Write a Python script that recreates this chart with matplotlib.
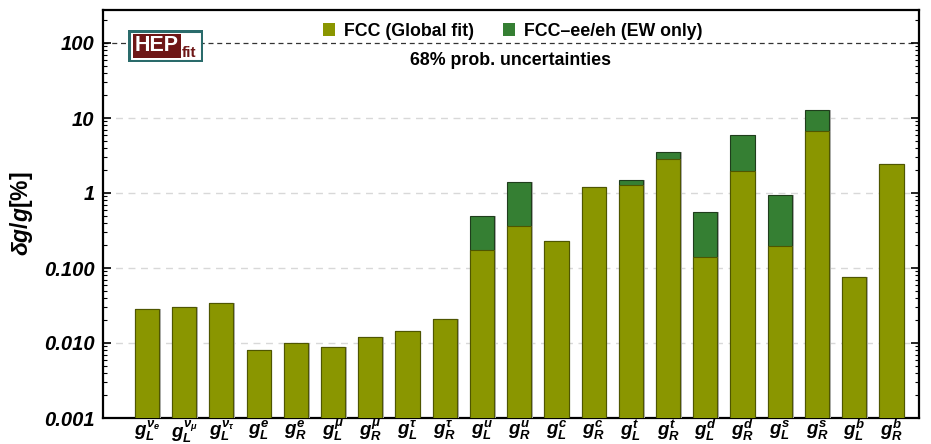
import numpy as np
import matplotlib
matplotlib.use("Agg")
import matplotlib.pyplot as plt
import matplotlib.patheffects as pe
from matplotlib.patches import Rectangle
from matplotlib.ticker import FixedLocator, LogLocator, NullFormatter

plt.rcParams['font.family'] = ['Liberation Sans', 'DejaVu Sans']
plt.rcParams['mathtext.fontset'] = 'custom'
plt.rcParams['mathtext.it'] = 'Liberation Sans:italic:bold'
plt.rcParams['mathtext.rm'] = 'Liberation Sans:bold'
plt.rcParams['mathtext.bf'] = 'Liberation Sans:bold'

# couplings
labels = [r'$g_L^{\nu_e}$', r'$g_L^{\nu_\mu}$', r'$g_L^{\nu_\tau}$',
          r'$g_L^{e}$', r'$g_R^{e}$', r'$g_L^{\mu}$', r'$g_R^{\mu}$',
          r'$g_L^{\tau}$', r'$g_R^{\tau}$', r'$g_L^{u}$', r'$g_R^{u}$',
          r'$g_L^{c}$', r'$g_R^{c}$', r'$g_L^{t}$', r'$g_R^{t}$',
          r'$g_L^{d}$', r'$g_R^{d}$', r'$g_L^{s}$', r'$g_R^{s}$',
          r'$g_L^{b}$', r'$g_R^{b}$']

# relative uncertainties in %
fcc_global = [0.0284, 0.030, 0.034, 0.0081, 0.0100, 0.0089, 0.0120, 0.0145,
              0.021, 0.174, 0.36, 0.226, 1.20, 1.28, 2.84, 0.142, 1.95,
              0.199, 6.8, 0.075, 2.42]
fcc_ew = [0.0284, 0.030, 0.034, 0.0081, 0.0100, 0.0089, 0.0120, 0.0145,
          0.021, 0.49, 1.40, 0.226, 1.20, 1.50, 3.5, 0.553, 5.9,
          0.94, 12.7, 0.075, 2.42]

olive = '#8a9600'
green = '#357f33'
x = np.arange(len(labels))
w = 0.65

fig = plt.figure(figsize=(9.31, 4.44), dpi=100)
ax = fig.add_axes([103/931, 1 - 418/444, 816/931, 408/444])

shadow = [pe.SimplePatchShadow(offset=(1.2, 0), shadow_rgbFace='#b0b0b0', alpha=1.0),
          pe.Normal()]
ax.bar(x, fcc_ew, width=w, color=green, edgecolor='#1f3d1c', linewidth=0.8,
       path_effects=shadow, zorder=2, label='FCC\u2013ee/eh (EW only)')
ax.bar(x, fcc_global, width=w, color=olive, edgecolor='#4f5600', linewidth=0.8,
       path_effects=shadow, zorder=3, label='FCC (Global fit)')

ax.set_yscale('log')
ax.set_ylim(0.001, 10**2.44)
ax.set_xlim(-1.18, 20.74)

for v in [0.01, 0.1, 1, 10]:
    ax.axhline(v, color='#d8d8d8', lw=1.0, ls=(0, (5, 4)), zorder=1)
ax.axhline(100, color='#333333', lw=0.9, ls=(0, (4, 3)), zorder=1)

ax.yaxis.set_major_locator(FixedLocator([0.001, 0.01, 0.1, 1, 10, 100]))
ax.set_yticklabels(['0.001', '0.010', '0.100', '1', '10', '100'])
ax.yaxis.set_minor_locator(LogLocator(base=10, subs=np.arange(2, 10), numticks=20))
ax.yaxis.set_minor_formatter(NullFormatter())
ax.tick_params(axis='y', which='major', direction='in', length=6, width=1.2,
               right=True, labelsize=14.5, pad=6)
ax.tick_params(axis='y', which='minor', direction='in', length=3, width=0.8,
               right=True)
for t in ax.get_yticklabels():
    t.set_fontweight('bold')
    t.set_fontstyle('italic')

ax.set_xticks(x)
ax.set_xticklabels(labels, fontsize=13.5)
ax.tick_params(axis='x', direction='in', length=3, width=1.2, pad=0)

for s in ax.spines.values():
    s.set_linewidth(1.6)

ax.set_ylabel(r'$\delta g/g[\%]$', fontsize=16.5)
ax.yaxis.set_label_coords(-0.083, 0.5)

handles, labs = ax.get_legend_handles_labels()
leg = ax.legend(handles[::-1], labs[::-1], loc='center', ncol=2,
                frameon=False, bbox_to_anchor=(0.502, 0.948), handlelength=0.7,
                handleheight=0.7, columnspacing=1.6, handletextpad=0.5,
                borderpad=0, prop={'weight': 'bold', 'size': 12.8})
for h in leg.legend_handles:
    h.set_edgecolor('none')
    h.set_path_effects([])
ax.text(0.5, 0.877, '68% prob. uncertainties', transform=ax.transAxes,
        ha='center', va='center', fontsize=12.8, fontweight='bold')

# logo
lg = fig.add_axes([128/931, 1 - 62/444, 75/931, 32/444])
lg.set_xlim(0, 75)
lg.set_ylim(0, 32)
lg.axis('off')
lg.add_patch(Rectangle((0.8, 0.8), 73.4, 30.4, facecolor='white',
                       edgecolor='#2a6b6b', linewidth=2.2))
lg.add_patch(Rectangle((5, 4), 48, 24, facecolor='#6e1616', edgecolor='none'))
lg.text(29, 16.5, 'HEP', color='white', fontsize=15.5, fontweight='bold',
        ha='center', va='center')
lg.text(54, 5, 'fit', color='#6e1616', fontsize=11, fontweight='bold',
        ha='left', va='baseline')

fig.savefig('out.png', dpi=100)
